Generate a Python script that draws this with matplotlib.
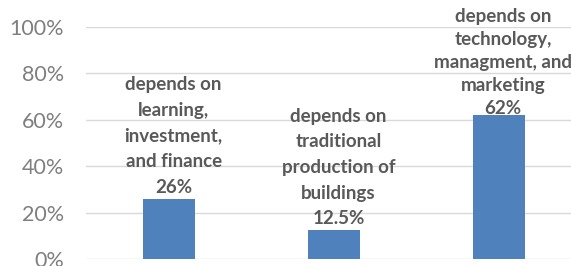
import matplotlib
matplotlib.use("Agg")
import matplotlib.pyplot as plt
from matplotlib.ticker import FuncFormatter

categories = ["depends on\nlearning,\ninvestment,\nand finance",
              "depends on\ntraditional\nproduction of\nbuildings",
              "depends on\ntechnology,\nmanagment, and\nmarketing"]
values = [26, 12.5, 62]
value_labels = ["26%", "12.5%", "62%"]
yticks = [0, 20, 40, 60, 80, 100]

W, H = 571, 266
fig = plt.figure(figsize=(W/100, H/100), dpi=100)
left, right = 86, 571
bottom, top = 259, 27
ax = fig.add_axes([left/W, (H-bottom)/H, (right-left)/W, (bottom-top)/H])

x = list(range(len(values)))
ax.bar(x, values, width=0.315, color="#4f81bd", zorder=3)
ax.set_xlim(-0.506, 2.436)
ax.set_ylim(0, 100)
ax.set_yticks(yticks)
ax.yaxis.set_major_formatter(FuncFormatter(lambda v, p: f"{int(v)}%"))
ax.grid(axis="y", color="#d9d9d9", linewidth=1.0, zorder=0)
ax.set_xticks([])
for s in ax.spines.values():
    s.set_visible(False)
ax.tick_params(axis="y", length=0, pad=16, labelsize=15.5, labelcolor="#7f7f7f")
for lbl in ax.get_yticklabels():
    lbl.set_family("Lato")

spacings = [1.62, 1.62, 1.42]
offsets = [2, 2, -1]
for xi, v, cat, vl, ls, dy in zip(x, values, categories, value_labels, spacings, offsets):
    ax.annotate(cat + "\n" + vl, xy=(xi, v), xytext=(3, dy), textcoords="offset points",
                ha="center", va="bottom", fontsize=13.5, fontweight="bold",
                color="#595959", family="Lato", linespacing=ls,
                annotation_clip=False, clip_on=False)

fig.savefig("out.png", dpi=100)
